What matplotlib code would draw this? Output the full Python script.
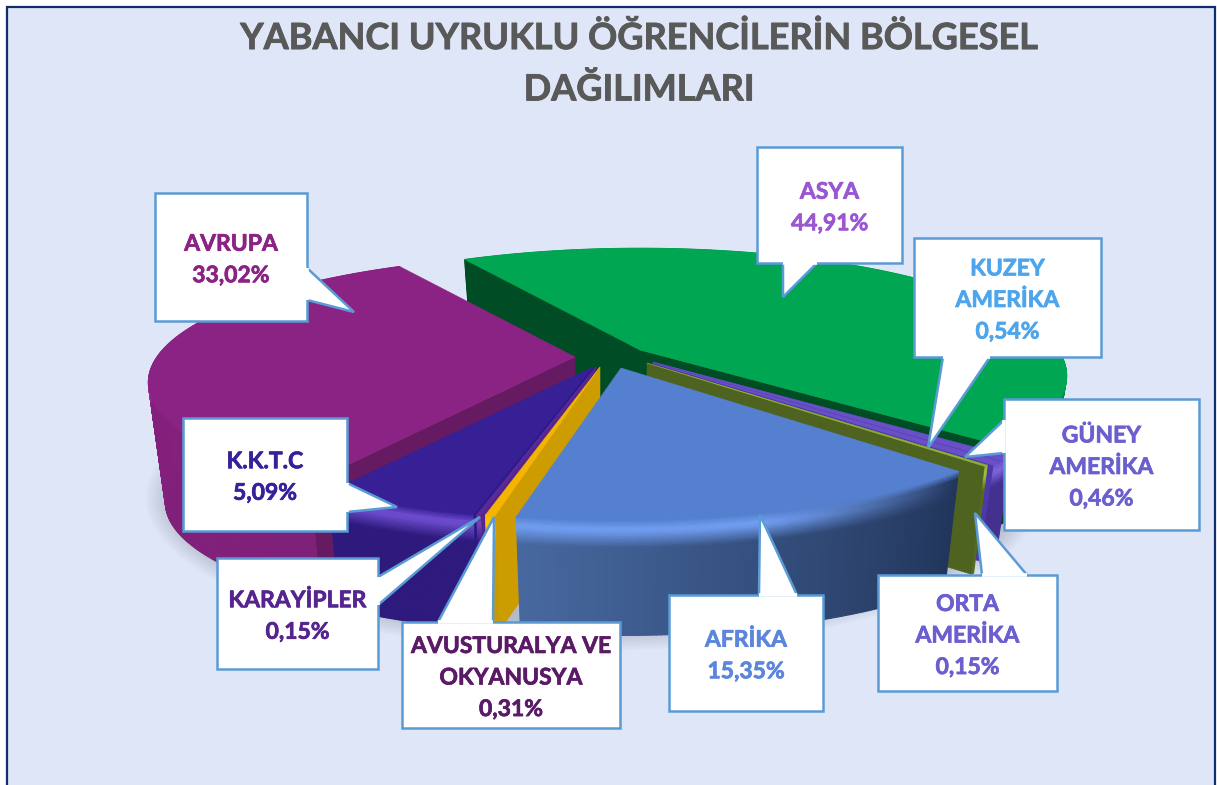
"""Exploded 3D pie of foreign students by region, drawn on a pixel-sized axes."""

import matplotlib
matplotlib.use("Agg")
import matplotlib.patheffects as pe
import matplotlib.pyplot as plt
import numpy as np
from matplotlib.collections import PolyCollection
from matplotlib.colors import to_rgb
from matplotlib.patches import Ellipse, Polygon, Rectangle

TITLE = "YABANCI UYRUKLU ÖĞRENCİLERİN BÖLGESEL\nDAĞILIMLARI"

# clockwise from the back-left edge of the Asia slice
REGIONS = ["ASYA", "KUZEY\nAMERİKA", "GÜNEY\nAMERİKA", "ORTA\nAMERİKA", "AFRİKA",
           "AVUSTURALYA VE\nOKYANUSYA", "KARAYİPLER", "K.K.T.C", "AVRUPA"]
SHARES = [44.91, 0.54, 0.46, 0.15, 15.35, 0.31, 0.15, 5.09, 33.02]

TOP_COLORS = ["#00A651", "#6A50C8", "#6A50C8", "#8FB12F", "#5580D0",
              "#F4B400", "#5B2A9A", "#371F96", "#8B2384"]
SIDE_START = ["#003E1E", "#43308F", "#43308F", "#556B1E", "#22365C",
              "#C79A00", "#3C1F80", "#2E1A7D", "#7F2079"]
SIDE_END = ["#003E1E", "#43308F", "#43308F", "#556B1E", "#47689F",
            "#C79A00", "#3C1F80", "#2E1A7D", "#86217F"]
FACE_COLORS = ["#004D25", "#4C38A8", "#4C38A8", "#4F6320", "#2F4A80",
               "#CC9C00", "#55248E", "#2A1A88", "#661A62"]
GLOW_COLORS = ["#008A44", "#7A62D8", "#7A62D8", "#9DBF3A", "#6F9BEE",
               "#FFC20E", "#7040B0", "#6B4BCC", "#A62AA3"]
GLOW_START = [0.3, 1, 1, 1, 0.0, 1, 1, 1, 1]
LABEL_COLORS = ["#9B57D3", "#4EA5EC", "#6B5FD0", "#6B5FD0", "#5B86DC",
                "#5A1A66", "#55248E", "#38209A", "#8B2384"]

# layout, in pixels of the 1217x785 picture
CX, CY, R, K, P = 605, 365, 418, 0.292, 0.20
BOTTOM_SCALE = 0.96
START_ANGLE = 240.5
OFFSETS = [(35, -15), (48, -3), (48, -2), (42, -2), (16, 3), (-5, 2), (-9, 2), (-12, 2), (-30, -8)]
DROPS = [92, 100, 100, 112, 121, 121, 121, 121, 121]
DRAW_ORDER = [0, 1, 2, 3, 8, 7, 6, 5, 4]

# box x0, y0, x1, y1 and the three corners of its tail
CALLOUTS = [
    ((757, 147, 902, 263), [(783, 263), (783, 297), (817, 263)]),
    ((914, 238, 1101, 357), [(990, 357), (928, 448), (943, 357)]),
    ((1004, 399, 1199, 530), [(1004, 453), (965, 457), (1004, 420)]),
    ((878, 575, 1057, 691), [(1027, 575), (975, 513), (982, 575)]),
    ((669, 595, 823, 711), [(797, 595), (760, 515), (759, 595)]),
    ((402, 622, 620, 728), [(493, 622), (494, 517), (438, 622)]),
    ((217, 558, 378, 669), [(378, 605), (480, 517), (378, 577)]),
    ((183, 418, 347, 531), [(347, 512), (397, 507), (347, 483)]),
    ((155, 193, 307, 321), [(307, 300), (354, 312), (307, 268)]),
]

BEVEL_T = np.linspace(0, 0.3, 16).tolist() + [1.0]


def project(theta, off, drop=None):
    theta = np.radians(theta)
    u, v = np.cos(theta), np.sin(theta)
    s = 1.0 / (1.0 - P * v)
    x, y = R * u * s, R * K * v * s
    if drop is not None:
        x, y = x * BOTTOM_SCALE, y * BOTTOM_SCALE + drop
    return CX + x + off[0], CY + y + off[1]


def apex(off, drop=0):
    return CX + off[0], CY + off[1] + drop


def mix(a, b, t):
    a, b = np.array(to_rgb(a)), np.array(to_rgb(b))
    return tuple(a + (b - a) * t)


def wall_color(t, glow, side, top):
    if t < 0.07:
        return mix(top, glow, t / 0.07)
    if t < 0.1:
        return mix(glow, glow, 0)
    return mix(glow, side, min((t - 0.1) / 0.14, 1.0))


def draw_rim(ax, th, off, i):
    xt, yt = project(th, off)
    xb, yb = project(th, off, DROPS[i])
    polys, cols = [], []
    for j in range(len(th) - 1):
        f = j / max(len(th) - 2, 1)
        side = mix(SIDE_START[i], SIDE_END[i], f)
        # light strip along the rounded top edge, weaker towards the slice start
        g = GLOW_START[i] + (1 - GLOW_START[i]) * min(f * 2, 1)
        glow = mix(side, GLOW_COLORS[i], g)
        for k in range(len(BEVEL_T) - 1):
            t0, t1 = BEVEL_T[k], BEVEL_T[k + 1]
            polys.append([(xt[j] + (xb[j] - xt[j]) * t0, yt[j] + (yb[j] - yt[j]) * t0),
                          (xt[j + 1] + (xb[j + 1] - xt[j + 1]) * t0, yt[j + 1] + (yb[j + 1] - yt[j + 1]) * t0),
                          (xt[j + 1] + (xb[j + 1] - xt[j + 1]) * t1, yt[j + 1] + (yb[j + 1] - yt[j + 1]) * t1),
                          (xt[j] + (xb[j] - xt[j]) * t1, yt[j] + (yb[j] - yt[j]) * t1)])
            cols.append(wall_color((t0 + t1) / 2, glow, side, TOP_COLORS[i]))
    ax.add_collection(PolyCollection(polys, facecolors=cols, edgecolors=cols, linewidths=0.8))


def draw_face(ax, theta, off, i):
    xt, yt = project(theta, off)
    xb, yb = project(theta, off, DROPS[i])
    ax.add_patch(Polygon([apex(off), (xt, yt), (xb, yb), apex(off, DROPS[i])],
                         closed=True, fc=FACE_COLORS[i], ec=FACE_COLORS[i], lw=0.4))


def draw_slice(ax, i, a0, a1):
    off = OFFSETS[i]
    th = np.linspace(a0, a1, max(int((a1 - a0) * 2), 3))
    draw_rim(ax, th, off, i)
    if np.cos(np.radians(a0)) < 0:
        draw_face(ax, a0, off, i)
    if np.cos(np.radians(a1)) > 0:
        draw_face(ax, a1, off, i)
    xt, yt = project(th, off)
    pts = [apex(off)] + list(zip(xt, yt))
    ax.add_patch(Polygon(pts, closed=True, fc=TOP_COLORS[i], ec=TOP_COLORS[i], lw=0.4))


def draw_callout(ax, box, tail, text, color):
    x0, y0, x1, y1 = box
    ax.add_patch(Rectangle((x0, y0), x1 - x0, y1 - y0, fc="white", ec="#5B9BD5", lw=1.8, zorder=10))
    ax.add_patch(Polygon(tail, closed=False, fc="white", ec="#5B9BD5", lw=1.8, zorder=10.1))
    # hide the box border under the tail root
    ax.plot([tail[0][0], tail[2][0]], [tail[0][1], tail[2][1]], color="white", lw=2.6,
            solid_capstyle="butt", zorder=10.2)
    ax.text((x0 + x1) / 2, (y0 + y1) / 2 + 3, text, ha="center", va="center", color=color,
            fontsize=16.5, fontweight="bold", linespacing=1.62, zorder=11,
            path_effects=[pe.withStroke(linewidth=0.5, foreground=color)])


plt.rcParams["font.family"] = ["Lato", "DejaVu Sans"]
fig = plt.figure(figsize=(12.17, 7.85), dpi=100)
ax = fig.add_axes([0, 0, 1, 1])
ax.set_xlim(0, 1217)
ax.set_ylim(785, 0)
ax.axis("off")

ax.add_patch(Rectangle((6.5, 6.5), 1208.5, 800, fc="#DEE6F7", ec="#0F2E6B", lw=1.6))

for g in range(14):
    ax.add_patch(Ellipse((592, 498), 2 * (420 + g * 2.0), 2 * (132 + g * 1.6), fc="#4A4A66",
                         ec="none", alpha=0.02))

ends = START_ANGLE + np.cumsum(SHARES) / np.sum(SHARES) * 360.0
starts = np.r_[START_ANGLE, ends[:-1]]
for i in DRAW_ORDER:
    draw_slice(ax, i, starts[i], ends[i])

ax.text(639, 64, TITLE, ha="center", va="center", color="#595959", fontsize=26,
        fontweight="bold", linespacing=1.65,
        path_effects=[pe.withStroke(linewidth=0.6, foreground="#595959")])

for i, (box, tail) in enumerate(CALLOUTS):
    pct = f"{SHARES[i]:.2f}".replace(".", ",") + "%"
    draw_callout(ax, box, tail, f"{REGIONS[i]}\n{pct}", LABEL_COLORS[i])

fig.savefig("out.png", dpi=100)
